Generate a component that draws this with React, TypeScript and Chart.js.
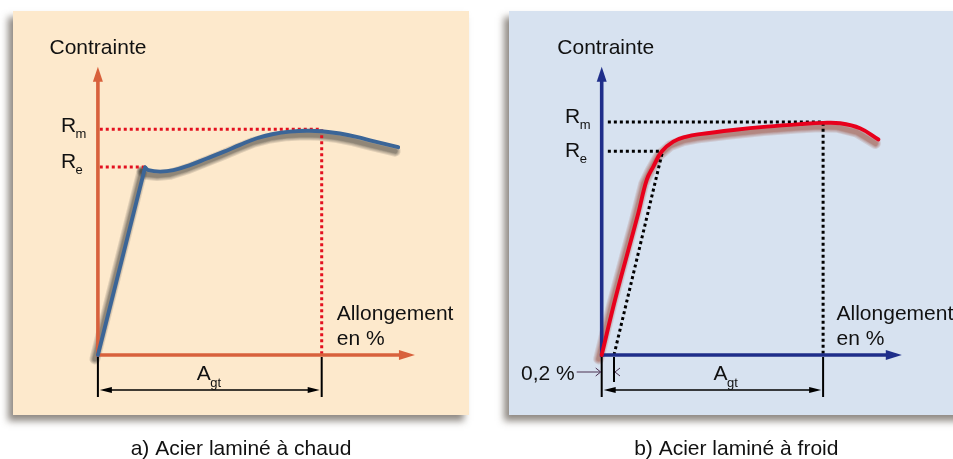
import { useEffect, useRef } from "react";
import { Chart, registerables } from "chart.js";

Chart.register(...registerables);

// ===== Values (schematic units: strain in %, stress in MPa) =====
// a) Acier laminé à chaud
const hotElasticStrain = [0, 2.53];
const hotElasticStress = [0, 399];
const hotPlasticStrain = [2.53, 2.71, 3.34, 4.05, 4.94, 5.84, 6.73, 7.62, 8.52, 9.41, 10.3, 11.2, 12.0, 12.98, 13.87, 14.76, 16.1];
const hotPlasticStress = [399, 393, 390, 393, 404, 418, 432, 447, 461, 470, 475, 477, 476, 471, 464, 455, 442];
const hotRe = 400;
const hotRm = 480;
const hotReStrain = 2.53;
const hotAgt = 12;
const hotAxisEnd = [17.0, 613];

// b) Acier laminé à froid
const coldStrain = [0, 0.216, 0.4325, 0.595, 0.732, 0.839, 0.976, 1.164, 1.382, 1.598, 2.14, 2.683, 3.224, 3.603, 3.876, 4.2, 4.5];
const coldStress = [0, 132, 252, 341, 421, 453, 489, 513, 525, 531, 541, 549, 555, 558, 557, 545, 518];
const coldRe = 490;
const coldRm = 560;
const coldReStrain = 0.99;
const coldAgt = 3.6;
const coldOffset = 0.2;
const coldAxisEnd = [4.88, 693];

// texts
const yAxisTitle = "Contrainte";
const xAxisTitle = ["Allongement", "en %"];
const captions = ["a) Acier laminé à chaud", "b) Acier laminé à froid"];
const offsetLabel = "0,2 %";

const FONT = '"Liberation Sans", Arial, Helvetica, sans-serif';

const toPts = (xs: number[], ys: number[]) => xs.map((x, i) => ({ x, y: ys[i] }));

type Spec = {
  key: string;
  width: number;
  ox: number;
  oy: number;
  kx: number;
  ky: number;
  bg: string;
  bgRect: number[];
  axisColor: string;
  axisEnd: number[];
  guideColor: string;
  curveColor: string;
  curveShadow: string;
  Re: number;
  Rm: number;
  ReStrain: number;
  Agt: number;
  offset?: number;
  contrDx: number;
  labelDx: number;
  rmDy: number;
  reDy: number;
  agtDx: number;
  allongDx: number;
  caption: string;
  captionX: number;
  curves: { data: { x: number; y: number }[]; tension: number }[];
};

function subText(ctx: CanvasRenderingContext2D, main: string, sub: string, x: number, y: number, dy: number) {
  ctx.font = `21px ${FONT}`;
  ctx.fillText(main, x, y);
  const w = ctx.measureText(main).width;
  ctx.font = `13px ${FONT}`;
  ctx.fillText(sub, x + w - 0.5, y + dy);
}

function makePlugin(s: Spec) {
  return {
    id: "panel" + s.key,
    beforeDraw(chart: any) {
      const ctx: CanvasRenderingContext2D = chart.ctx;
      ctx.save();
      ctx.shadowColor = "rgba(70,60,50,0.6)";
      ctx.shadowBlur = 7;
      ctx.shadowOffsetX = -5;
      ctx.shadowOffsetY = 6;
      ctx.fillStyle = s.bg;
      const [x, y, w, h] = s.bgRect;
      ctx.fillRect(x, y, w, h);
      ctx.restore();
    },
    beforeDatasetsDraw(chart: any) {
      // soft drop shadow under the curves: stacked translucent strokes along the dataset points
      const ctx: CanvasRenderingContext2D = chart.ctx;
      ctx.save();
      ctx.shadowColor = "rgba(0,0,0,0)";
      ctx.shadowBlur = 0;
      ctx.strokeStyle = s.curveShadow;
      ctx.lineJoin = "round";
      ctx.lineCap = "round";
      const widths = [11, 9, 7, 5.5, 4.5];
      for (let i = 0; i < s.curves.length; i++) {
        const els = chart.getDatasetMeta(i).data;
        for (const w of widths) {
          ctx.lineWidth = w;
          ctx.beginPath();
          els.forEach((p: any, j: number) => {
            if (j === 0) ctx.moveTo(p.x - 3, p.y + 4);
            else ctx.lineTo(p.x - 3, p.y + 4);
          });
          ctx.stroke();
        }
      }
      ctx.restore();
    },
    afterDatasetsDraw(chart: any) {
      const ctx: CanvasRenderingContext2D = chart.ctx;
      const X = (v: number) => chart.scales.x.getPixelForValue(v);
      const Y = (v: number) => chart.scales.y.getPixelForValue(v);
      const x0 = X(0);
      const y0 = Y(0);
      ctx.save();
      // arrowheads
      ctx.fillStyle = s.axisColor;
      const ty = Y(s.axisEnd[1]);
      ctx.beginPath();
      ctx.moveTo(x0, ty);
      ctx.lineTo(x0 + 5, ty + 15);
      ctx.lineTo(x0 - 5, ty + 15);
      ctx.closePath();
      ctx.fill();
      const tx = X(s.axisEnd[0]);
      ctx.beginPath();
      ctx.moveTo(tx, y0);
      ctx.lineTo(tx - 16, y0 - 5);
      ctx.lineTo(tx - 16, y0 + 5);
      ctx.closePath();
      ctx.fill();

      // dimension lines
      const xa = X(s.Agt);
      ctx.strokeStyle = "#000";
      ctx.lineWidth = 2;
      ctx.beginPath();
      ctx.moveTo(x0, y0 + 2);
      ctx.lineTo(x0, y0 + 42);
      ctx.moveTo(xa, y0 + 2);
      ctx.lineTo(xa, y0 + 42);
      if (s.offset !== undefined) {
        const xo = X(s.offset);
        ctx.moveTo(xo, y0 + 2);
        ctx.lineTo(xo, y0 + 27);
      }
      ctx.stroke();
      const ay = y0 + 35;
      ctx.lineWidth = 1.3;
      ctx.beginPath();
      ctx.moveTo(x0 + 6, ay);
      ctx.lineTo(xa - 6, ay);
      ctx.stroke();
      ctx.fillStyle = "#000";
      ctx.beginPath();
      ctx.moveTo(x0 + 2, ay);
      ctx.lineTo(x0 + 14, ay - 3);
      ctx.lineTo(x0 + 14, ay + 3);
      ctx.closePath();
      ctx.fill();
      ctx.beginPath();
      ctx.moveTo(xa - 2, ay);
      ctx.lineTo(xa - 14, ay - 3);
      ctx.lineTo(xa - 14, ay + 3);
      ctx.closePath();
      ctx.fill();

      if (s.offset !== undefined) {
        const xo = X(s.offset);
        const ly = y0 + 17;
        ctx.strokeStyle = "#4a3050";
        ctx.lineWidth = 1;
        ctx.beginPath();
        ctx.moveTo(x0 - 25, ly);
        ctx.lineTo(x0 - 1, ly);
        ctx.moveTo(x0 - 6, ly - 4);
        ctx.lineTo(x0 - 1, ly);
        ctx.lineTo(x0 - 6, ly + 4);
        ctx.moveTo(xo + 6, ly - 4);
        ctx.lineTo(xo + 1, ly);
        ctx.lineTo(xo + 6, ly + 4);
        ctx.stroke();
        ctx.fillStyle = "#111";
        ctx.font = `21px ${FONT}`;
        ctx.textAlign = "right";
        ctx.fillText(offsetLabel, x0 - 27, y0 + 25);
        ctx.textAlign = "left";
      }

      // texts
      ctx.fillStyle = "#111";
      ctx.textAlign = "left";
      ctx.textBaseline = "alphabetic";
      ctx.font = `21px ${FONT}`;
      ctx.fillText(yAxisTitle, x0 + s.contrDx, 54);
      ctx.fillText(xAxisTitle[0], xa + s.allongDx, y0 - 35.5);
      ctx.fillText(xAxisTitle[1], xa + s.allongDx, y0 - 10);
      subText(ctx, "R", "m", x0 + s.labelDx, Y(s.Rm) + s.rmDy, 6);
      subText(ctx, "R", "e", x0 + s.labelDx, Y(s.Re) + s.reDy, 6);
      subText(ctx, "A", "gt", (x0 + xa) / 2 + s.agtDx, y0 + 25, 7);
      ctx.font = `21px ${FONT}`;
      ctx.textAlign = "center";
      ctx.fillText(s.caption, s.captionX, 455);
      ctx.restore();
    },
  };
}

function buildChart(canvas: HTMLCanvasElement, s: Spec) {
  const h = 459;
  const xMin = -s.ox / s.kx;
  const xMax = (s.width - s.ox) / s.kx;
  const yMin = -(h - s.oy) / s.ky;
  const yMax = s.oy / s.ky;
  const axisW = 3.6;
  const curveSets = s.curves.map((c) => ({
    data: c.data,
    borderColor: s.curveColor,
    borderWidth: 3.9,
    tension: c.tension,
    borderCapStyle: "round",
    borderJoinStyle: "round",
    fill: false,
  }));
  const axisSets = [
    { data: [{ x: 0, y: 0 }, { x: 0, y: s.axisEnd[1] - 14 / s.ky }] },
    { data: [{ x: 0, y: 0 }, { x: s.axisEnd[0] - 15 / s.kx, y: 0 }] },
  ].map((d) => ({
    ...d,
    borderColor: s.axisColor,
    borderWidth: axisW,
    borderCapStyle: "square",
    tension: 0,
    fill: false,
  }));
  const guides: any[] = [
    { data: [{ x: 0.1, y: s.Rm }, { x: s.Agt, y: s.Rm }, { x: s.Agt, y: 0 }] },
    { data: [{ x: 0.1, y: s.Re }, { x: s.ReStrain, y: s.Re }] },
  ];
  if (s.offset !== undefined) guides.push({ data: [{ x: s.offset, y: 0 }, { x: s.ReStrain, y: s.Re }] });
  const guideSets = guides.map((d) => ({
    ...d,
    borderColor: s.guideColor,
    borderWidth: 3,
    borderDash: [3, 3],
    borderCapStyle: "butt",
    tension: 0,
    fill: false,
  }));
  return new Chart(canvas, {
    type: "line",
    data: { datasets: [...curveSets, ...axisSets, ...guideSets] as any },
    options: {
      animation: false,
      responsive: false,
      maintainAspectRatio: false,
      elements: { point: { radius: 0 } },
      plugins: { legend: { display: false }, tooltip: { enabled: false } },
      scales: {
        x: { type: "linear", display: false, min: xMin, max: xMax },
        y: { type: "linear", display: false, min: yMin, max: yMax },
      },
    } as any,
    plugins: [makePlugin(s) as any],
  });
}

const hotSpec: Spec = {
  key: "a",
  width: 480,
  ox: 97.9,
  oy: 355,
  kx: 18.65,
  ky: 0.4702,
  bg: "#fde9cc",
  bgRect: [13, 11, 456, 404],
  axisColor: "#d8613c",
  axisEnd: hotAxisEnd,
  guideColor: "#e3101f",
  curveColor: "#3b6597",
  curveShadow: "rgba(40,40,40,0.13)",
  Re: hotRe,
  Rm: hotRm,
  ReStrain: hotReStrain,
  Agt: hotAgt,
  contrDx: -48.4,
  labelDx: -37,
  rmDy: 3,
  reDy: 1,
  agtDx: -13,
  allongDx: 15,
  caption: captions[0],
  captionX: 241,
  curves: [
    { data: toPts(hotElasticStrain, hotElasticStress), tension: 0 },
    { data: toPts(hotPlasticStrain, hotPlasticStress), tension: 0.4 },
  ],
};

const coldSpec: Spec = {
  key: "b",
  width: 473,
  ox: 121.7,
  oy: 355,
  kx: 61.5,
  ky: 0.416,
  bg: "#d7e2f0",
  bgRect: [29, 11, 460, 404],
  axisColor: "#1f2e8a",
  axisEnd: coldAxisEnd,
  guideColor: "#000000",
  curveColor: "#e8001c",
  curveShadow: "rgba(150,55,35,0.14)",
  Re: coldRe,
  Rm: coldRm,
  ReStrain: coldReStrain,
  Agt: coldAgt,
  offset: coldOffset,
  contrDx: -44.4,
  labelDx: -36.7,
  rmDy: 1,
  reDy: 6,
  agtDx: 1,
  allongDx: 13.4,
  caption: captions[1],
  captionX: 256.3,
  curves: [{ data: toPts(coldStrain, coldStress), tension: 0.4 }],
};

export default function App() {
  const leftRef = useRef<HTMLCanvasElement>(null);
  const rightRef = useRef<HTMLCanvasElement>(null);
  useEffect(() => {
    const a = buildChart(leftRef.current!, hotSpec);
    const b = buildChart(rightRef.current!, coldSpec);
    return () => {
      a.destroy();
      b.destroy();
    };
  }, []);
  return (
    <div style={{ position: "fixed", left: 0, top: 0, width: 953, height: 459, background: "#fff", overflow: "hidden" }}>
      <canvas ref={leftRef} width={480} height={459} style={{ position: "absolute", left: 0, top: 0, width: 480, height: 459 }} />
      <canvas ref={rightRef} width={473} height={459} style={{ position: "absolute", left: 480, top: 0, width: 473, height: 459 }} />
    </div>
  );
}
